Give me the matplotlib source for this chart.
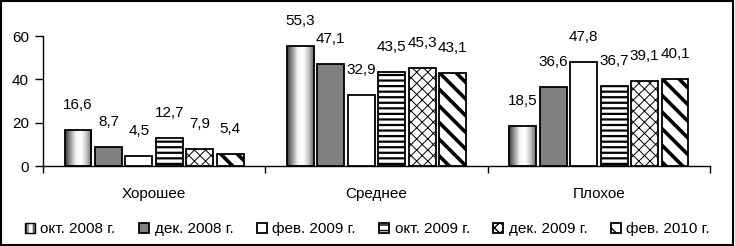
import numpy as np
import matplotlib
matplotlib.use("Agg")
import matplotlib.pyplot as plt
from matplotlib.patches import Rectangle
from matplotlib.colors import LinearSegmentedColormap
from matplotlib.legend_handler import HandlerPatch

plt.rcParams["font.family"] = ["Liberation Sans", "DejaVu Sans"]
plt.rcParams["font.size"] = 11

# Data
categories = ["Хорошее", "Среднее", "Плохое"]
series = ["окт. 2008 г.", "дек. 2008 г.", "фев. 2009 г.",
          "окт. 2009 г.", "дек. 2009 г.", "фев. 2010 г."]
okt_2008 = [16.6, 55.3, 18.5]
dek_2008 = [8.7, 47.1, 36.6]
fev_2009 = [4.5, 32.9, 47.8]
okt_2009 = [12.7, 43.5, 36.7]
dek_2009 = [7.9, 45.3, 39.1]
fev_2010 = [5.4, 43.1, 40.1]
values = [okt_2008, dek_2008, fev_2009, okt_2009, dek_2009, fev_2010]

# Styles: (facecolor, hatch, hatch linewidth)
styles = [
    ("none", None, 1.0),
    ("#808080", None, 1.0),
    ("white", None, 1.0),
    ("white", "---", 1.6),
    ("white", "xxx", 0.7),
    ("white", "\\\\", 2.6),
]
cyl_colors = ["#3a3a3a", "#9a9a9a", "#f4f4f4", "#ffffff", "#c8c8c8", "#6a6a6a"]

fig = plt.figure(figsize=(7.35, 2.46), dpi=100)
ax = fig.add_axes([43 / 735, 1 - 166 / 246, (710 - 43) / 735, 130 / 246])

x = np.arange(len(categories))
slot = 0.137
width = 0.121
shade = LinearSegmentedColormap.from_list("cyl", cyl_colors)
grad = np.linspace(0, 1, 64).reshape(1, -1)

handles = []
for i, (vals, (fc, hatch, hlw)) in enumerate(zip(values, styles)):
    with plt.rc_context({"hatch.linewidth": hlw}):
        bars = ax.bar(x + (i - 2.5) * slot, vals, width, facecolor=fc,
                      edgecolor="black", linewidth=1.3, hatch=hatch,
                      label=series[i], zorder=3)
    if hatch is not None:
        for b in bars:
            if hasattr(b, "set_hatch_linewidth"):
                b.set_hatch_linewidth(hlw)
    if i == 0:
        for b in bars:
            x0, w, h = b.get_x(), b.get_width(), b.get_height()
            ax.imshow(grad, cmap=shade, extent=(x0, x0 + w, 0, h),
                      aspect="auto", zorder=2, interpolation="bilinear")
    for b, v in zip(bars, vals):
        ax.annotate(f"{v:.1f}".replace(".", ","),
                    (b.get_x() + b.get_width() / 2, b.get_height()),
                    xytext=(0, 18), textcoords="offset points",
                    ha="center", va="center", fontsize=11)
    handles.append(bars)

ax.set_xlim(-0.5, 2.5)
ax.set_ylim(0, 60)
ax.set_yticks([0, 20, 40, 60])
ax.set_xticks(x)
ax.set_xticklabels(categories)
ax.set_xticks([-0.5, 0.5, 1.5, 2.5], minor=True)
ax.tick_params(axis="x", which="major", length=0, pad=15, labelsize=11)
ax.tick_params(axis="x", which="minor", length=5, width=1, direction="out")
ax.tick_params(axis="y", length=6, width=1, direction="out", pad=4, labelsize=11)
for s in ["top", "right"]:
    ax.spines[s].set_visible(False)
for s in ["left", "bottom"]:
    ax.spines[s].set_linewidth(1)


class GradientHandler(HandlerPatch):
    def create_artists(self, legend, orig_handle, xdescent, ydescent,
                       width, height, fontsize, trans):
        arts = []
        n = len(cyl_colors)
        for k in range(n):
            arts.append(Rectangle((-xdescent + width * k / n, -ydescent), width / n, height,
                                  facecolor=cyl_colors[k], edgecolor="none", transform=trans))
        arts.append(Rectangle((-xdescent, -ydescent), width, height,
                              facecolor="none", edgecolor="black", linewidth=1,
                              transform=trans))
        return arts


leg = fig.legend([h[0] for h in handles], series, loc="center",
                 bbox_to_anchor=(0.5, 1 - 229 / 246), ncol=6, frameon=False,
                 handlelength=0.65, handleheight=0.65, handletextpad=0.35,
                 columnspacing=1.55, fontsize=11,
                 handler_map={handles[0][0]: GradientHandler()})

fig.patches.append(Rectangle((0.002, 0.004), 0.995, 0.992, transform=fig.transFigure,
                             facecolor="none", edgecolor="black", linewidth=1.5))

fig.savefig("out.png", dpi=100)
